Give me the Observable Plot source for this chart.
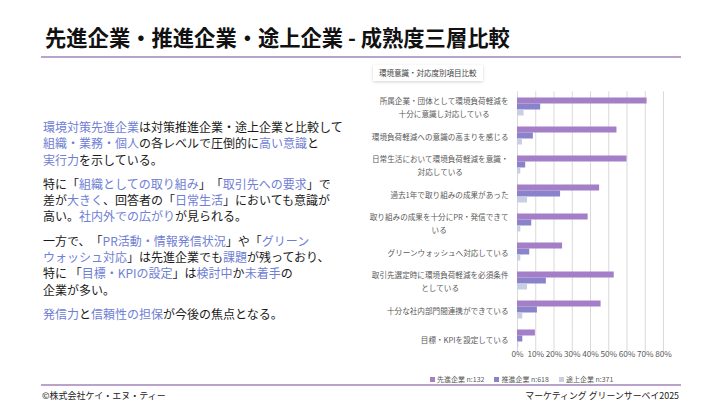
<!DOCTYPE html>
<html><head><meta charset="utf-8">
<script src="https://cdn.jsdelivr.net/npm/d3@7"></script>
<script src="https://cdn.jsdelivr.net/npm/@observablehq/plot@0.6"></script>
<style>
html,body{margin:0;padding:0;background:#fff;}
#page{position:relative;width:720px;height:405px;overflow:hidden;background:#fff;font-family:"Noto Sans CJK JP","Noto Sans",sans-serif;text-spacing-trim:space-all;}
#title{position:absolute;left:45px;top:23px;font-size:21.3px;font-weight:bold;color:#111;white-space:nowrap;line-height:28px;}
.hline{position:absolute;left:41px;width:640px;height:2px;background:#b9a3cc;}
#text{position:absolute;left:43px;top:119px;font-size:12px;line-height:16.3px;color:#1a1a1a;white-space:nowrap;}
#text p{margin:0 0 8px 0;}
#text .h{color:#6f80d4;}
#ctitle{position:absolute;left:373px;top:65px;padding:2px 6px;font-size:7.5px;color:#404040;background:#fff;box-shadow:0 1px 3px rgba(0,0,0,0.18);line-height:12px;}
#chart{position:absolute;left:360px;top:84px;}
#legend{position:absolute;left:430px;top:374px;font-size:7px;color:#595959;white-space:nowrap;line-height:10px;display:flex;}
#legend span.it{display:flex;align-items:center;margin-right:10px;}
#legend i{display:inline-block;width:5px;height:5px;margin-right:2px;}
#fl{position:absolute;left:42px;top:389px;font-size:9px;color:#222;line-height:14px;}
#fr{position:absolute;right:41px;top:389px;font-size:8.9px;color:#222;line-height:14px;}
</style></head>
<body><div id="page">
<div id="title">先進企業・推進企業・途上企業 - 成熟度三層比較</div>
<div class="hline" style="top:56px"></div>
<div id="text">
<p><span class="h">環境対策先進企業</span>は対策推進企業・途上企業と比較して<br><span class="h">組織・業務・個人</span>の各レベルで圧倒的に<span class="h">高い意識</span>と<br><span class="h">実行力</span>を示している。</p>
<p>特に「<span class="h">組織としての取り組み</span>」「<span class="h">取引先への要求</span>」で<br>差が<span class="h">大きく</span>、回答者の「<span class="h">日常生活</span>」においても意識が<br>高い。<span class="h">社内外での広がり</span>が見られる。</p>
<p>一方で、「<span class="h">PR活動・情報発信状況</span>」や「<span class="h">グリーン</span><br><span class="h">ウォッシュ対応</span>」は先進企業でも<span class="h">課題</span>が残っており、<br>特に 「<span class="h">目標・KPIの設定</span>」は<span class="h">検討中</span>か<span class="h">未着手</span>の<br>企業が多い。</p>
<p><span class="h">発信力</span>と<span class="h">信頼性の担保</span>が今後の焦点となる。</p>
</div>
<div id="ctitle">環境意識・対応度別項目比較</div>
<div id="chart"></div>
<div id="legend"></div>
<div class="hline" style="top:384px"></div>
<div id="fl">©株式会社ケイ・エヌ・ティー</div>
<div id="fr">マーケティング グリーンサーベイ2025</div>
</div>
<script>
const categories = [
  "所属企業・団体として環境負荷軽減を\n十分に意識し対応している",
  "環境負荷軽減への意識の高まりを感じる",
  "日常生活において環境負荷軽減を意識・\n対応している",
  "過去1年で取り組みの成果があった",
  "取り組みの成果を十分にPR・発信できて\nいる",
  "グリーンウォッシュへ対応している",
  "取引先選定時に環境負荷軽減を必須条件\nとしている",
  "十分な社内部門間連携ができている",
  "目標・KPIを設定している"
];
const series = ["先進企業 n:132", "推進企業 n:618", "途上企業 n:371"];
const advanced  = [71, 54.5, 60, 45, 38.7, 24.7, 53, 45.8, 9.8];
const promoting = [12.7, 8.7, 4.5, 23.6, 7.8, 6.7, 15.8, 10.9, 2.9];
const lagging   = [3.6, 2.7, 1.8, 5.5, 1.8, 1.8, 5.5, 2.9, 0.7];
const colors = ["#a47ec7", "#8a83cb", "#c9cee2"];
const xTicks = [0, 10, 20, 30, 40, 50, 60, 70, 80];

const valuesBySeries = [advanced, promoting, lagging];
const rows = categories.flatMap((c, i) => series.map((s, j) => ({category: c, series: s, value: valuesBySeries[j][i]})));

const svg = Plot.plot({
  width: 330, height: 290,
  marginLeft: 157, marginRight: 27, marginTop: 5.5, marginBottom: 20,
  x: {domain: [0, 80]},
  y: {domain: series, padding: 0, axis: null},
  fy: {domain: categories, paddingInner: 0.3876, paddingOuter: 0.1938},
  color: {domain: series, range: colors},
  style: {fontFamily: '"Noto Sans CJK JP", "Noto Sans", sans-serif', fontSize: "7.5px", color: "#595959", background: "transparent", overflow: "visible"},
  marks: [
    Plot.ruleX(xTicks, {x: d => d, stroke: "#d9d9d9", strokeWidth: 1, insetTop: -5.7, insetBottom: -5.7}),
    Plot.barX(rows, {x: "value", y: "series", fy: "category", fill: "series"}),
    Plot.axisX({ticks: xTicks, tickFormat: d => d + "%", tickSize: 0, tickPadding: 3.5, label: null, fill: "#595959", fontSize: 8.2}),
    Plot.axisFy({anchor: "left", tickSize: 0, tickPadding: 9, label: null, lineHeight: 1.75, fill: "#595959", fontSize: 7.6})
  ]
});
document.getElementById("chart").appendChild(svg);

// center multi-line category labels like the original chart
svg.querySelectorAll('g[aria-label="fy-axis tick label"] text').forEach(t => {
  const spans = t.querySelectorAll("tspan");
  if (spans.length < 2) return;
  let maxW = 0;
  spans.forEach(s => { maxW = Math.max(maxW, s.getComputedTextLength()); });
  t.setAttribute("text-anchor", "middle");
  spans.forEach(s => {
    const x0 = parseFloat(s.getAttribute("x") || "0");
    s.setAttribute("x", x0 - maxW / 2);
  });
});

const lg = document.getElementById("legend");
series.forEach((s, j) => {
  const it = document.createElement("span");
  it.className = "it";
  it.innerHTML = `<i style="background:${colors[j]}"></i>${s}`;
  lg.appendChild(it);
});
</script>
</body></html>
